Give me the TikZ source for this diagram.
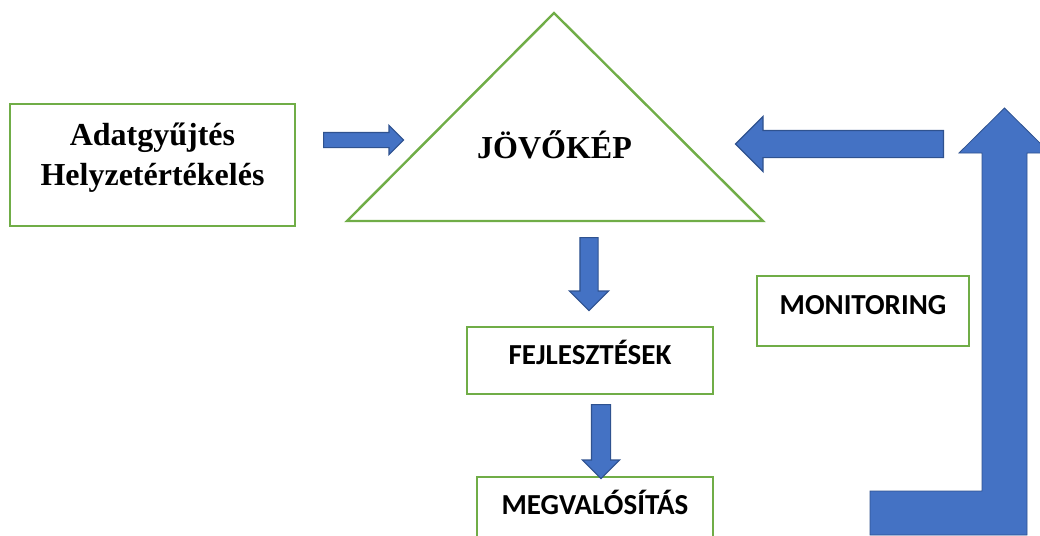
\documentclass[tikz,border=0pt]{standalone}
\usepackage{fontspec}
\setmainfont{Liberation Serif}
\newfontfamily\calibri{Carlito}
\usepackage{tikz}
\usetikzlibrary{positioning,shapes.arrows}
\definecolor{framegreen}{HTML}{70AD47}
\definecolor{arrowblue}{HTML}{4472C4}
\definecolor{arrowedge}{HTML}{2F528F}

\begin{document}
\begin{tikzpicture}[
        x=0.5pt, y=-0.5pt,
        box/.style={rectangle, draw=framegreen, line width=1.2pt, outer sep=0pt},
        sanslabel/.style={font=\calibri\bfseries\fontsize{14.5}{17}\selectfont, text height=9.2pt, text depth=5.5pt},
        seriflabel/.style={font=\bfseries\fontsize{16}{20}\selectfont},
        blockarrow/.style={single arrow, draw=arrowedge, fill=arrowblue, line width=0.6pt, inner xsep=0pt, single arrow tip angle=90, anchor=tail}
    ]
        \useasboundingbox (0,0) rectangle (1040,536);
        \clip (0,0) rectangle (1040,536);

        % Vision triangle
        \draw[framegreen, line width=1.2pt] (347,221) -- (554,13) -- (763,221) -- cycle;
        \node[seriflabel, anchor=base] (vision) at (554.5,158) {JÖVŐKÉP};

        % Boxes
        \node[box, minimum width=142.5pt, minimum height=61pt,
            label={[seriflabel, align=center, yshift=3.5pt, name=dataText]center:Adatgyűjtés\\Helyzetértékelés}] (data) at (152.5,165) {};
        \node[box, sanslabel, minimum width=106pt, minimum height=35pt] (monitor) at (863,311) {MONITORING};
        \node[box, sanslabel, minimum width=123pt, minimum height=33.5pt] (dev) at (590,360.5) {FEJLESZTÉSEK};
        \node[box, sanslabel, minimum width=118pt, minimum height=33.5pt, below=41.5pt of dev, xshift=2.5pt] (impl) {MEGVALÓSÍTÁS};

        % Block arrows
        \node[blockarrow, minimum height=40pt, inner ysep=3.5pt, single arrow head extend=3.5pt] (toVision) at (323,140) {};
        \node[blockarrow, rotate=180, minimum height=104pt, inner ysep=6.5pt, single arrow head extend=7pt] (feedback) at (944,144) {};
        \node[blockarrow, rotate=-90, minimum height=36.5pt, inner ysep=4.25pt, single arrow head extend=5.25pt] (toDev) at (589,237) {};
        \node[blockarrow, rotate=-90, minimum height=37pt, inner ysep=4.5pt, single arrow head extend=4.5pt] (toImpl) at (601,404) {};

        % Bent return arrow
        \filldraw[draw=arrowedge, fill=arrowblue, line width=0.4pt]
            (870,535) -- (870,491) -- (982,491) -- (982,153) -- (959,153) -- (1004.5,108)
            -- (1050,153) -- (1027,153) -- (1027,535) -- cycle;
    \end{tikzpicture}
\end{document}
